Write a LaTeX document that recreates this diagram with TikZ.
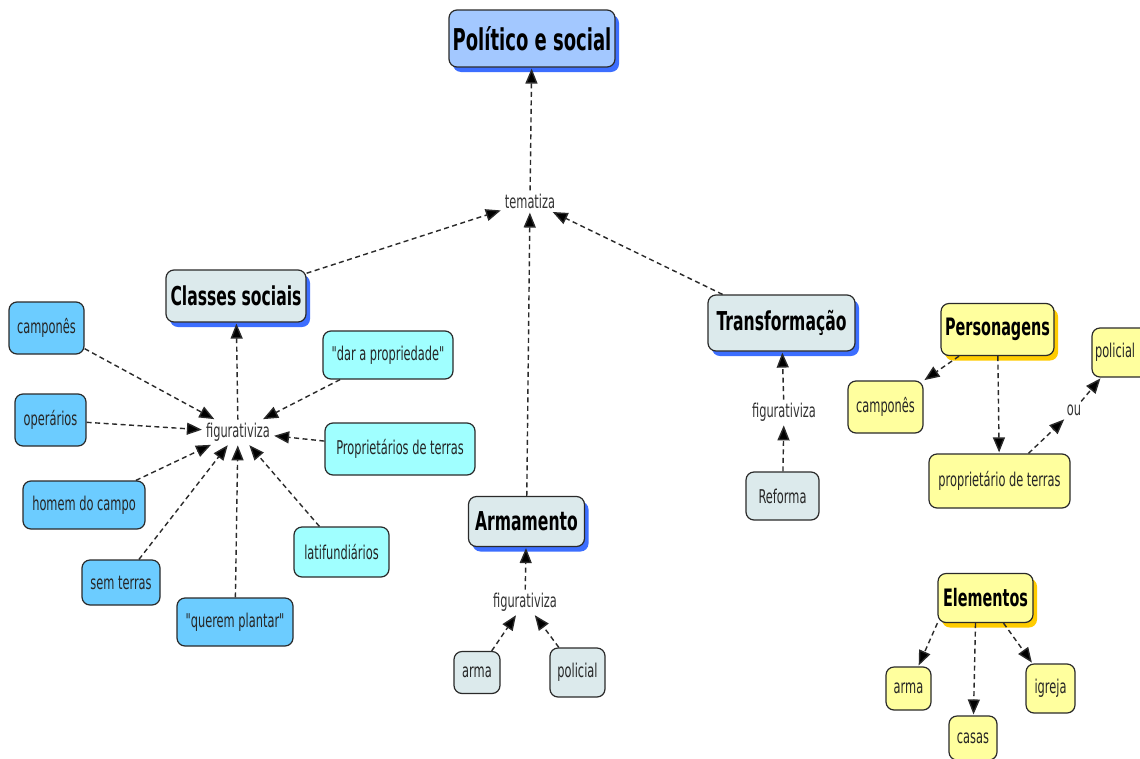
\documentclass[tikz,border=0pt]{standalone}
\usepackage{fontspec}
\setmainfont{DejaVu Sans}[FakeStretch=0.6, Ligatures=TeXOff]
\usetikzlibrary{arrows.meta,shadows}

\definecolor{edgegray}{HTML}{2A2A2A}
\definecolor{topfill}{HTML}{A3C8FF}
\definecolor{greyfill}{HTML}{DCEAEC}
\definecolor{bluefill}{HTML}{6CCCFF}
\definecolor{cyanfill}{HTML}{A0FFFF}
\definecolor{yellowfill}{HTML}{FFFF9E}
\definecolor{shadowblue}{HTML}{3C6EFF}
\definecolor{shadowgold}{HTML}{FFCC00}

\tikzset{
  box/.style={draw=edgegray, line width=1.2pt, rounded corners=8pt, align=center,
    inner sep=0pt, text=black!85, font=\fontsize{19}{22}\selectfont},
  sz/.style 2 args={minimum width=#1pt, minimum height=#2pt},
  head/.style={box, font=\bfseries\fontsize{#1}{#1}\selectfont, text=black},
  blueshadow/.style={drop shadow={shadow xshift=4pt, shadow yshift=-5pt, fill=shadowblue, opacity=1}},
  goldshadow/.style={drop shadow={shadow xshift=4pt, shadow yshift=-5pt, fill=shadowgold, opacity=1}},
  lbl/.style={inner sep=3pt, text=black!80, font=\fontsize{19}{22}\selectfont},
  conn/.style={draw=edgegray, line width=1.4pt, dash pattern=on 5pt off 3.5pt,
    -{Triangle[length=15pt,width=12pt,fill=black]}, shorten >=1pt},
}

\begin{document}
\begin{tikzpicture}[x=1pt,y=-1pt]
\useasboundingbox[fill=white] (0,0) rectangle (1140,758);

% main concept and linking phrase
\node[head=30, blueshadow, fill=topfill, sz={166}{57}] (pol) at (532,38.5) {Político e social};
\node[lbl] (tem) at (530,201) {tematiza};

% second level concepts
\node[head=26, blueshadow, fill=greyfill, sz={140}{52}] (cls) at (236,296) {Classes sociais};
\node[head=26, blueshadow, fill=greyfill, sz={147}{56}] (trf) at (781.5,323) {Transformação};
\node[head=26, blueshadow, fill=greyfill, sz={116}{50}] (arm) at (526.5,521.5) {Armamento};

% social classes branch
\node[lbl] (figL) at (238,432) {figurativiza};
\node[box, fill=bluefill, sz={75}{52}] (camp) at (46.5,328) {camponês};
\node[box, fill=bluefill, sz={71}{52}] (oper) at (50.5,420) {operários};
\node[box, fill=bluefill, sz={122}{48}] (hom) at (84,505) {homem do campo};
\node[box, fill=bluefill, sz={78}{45}] (sem) at (121,582.5) {sem terras};
\node[box, fill=bluefill, sz={116}{48}] (quer) at (235,622) {"querem plantar"};
\node[box, fill=cyanfill, sz={95}{50}] (lat) at (341.5,552) {latifundiários};
\node[box, fill=cyanfill, sz={150}{52}] (prop) at (400,449) {Proprietários de terras};
\node[box, fill=cyanfill, sz={130}{48}] (dar) at (388,355) {"dar a propriedade"};

% armament branch
\node[lbl] (figA) at (525,602) {figurativiza};
\node[box, fill=greyfill, sz={46}{42}] (arma) at (477,672.5) {arma};
\node[box, fill=greyfill, sz={55}{49}] (pol2) at (577.5,672.5) {policial};

% transformation branch
\node[lbl] (figT) at (784,412) {figurativiza};
\node[box, fill=greyfill, sz={73}{48}] (ref) at (782.5,496) {Reforma};

% characters
\node[head=24, goldshadow, fill=yellowfill, sz={113}{52}] (per) at (997.5,329.5) {Personagens};
\node[box, fill=yellowfill, sz={75}{52}] (ycamp) at (885.5,407) {camponês};
\node[box, fill=yellowfill, sz={141}{54}] (yprop) at (999.5,481) {proprietário de terras};
\node[lbl] (ou) at (1074,410) {ou};
\node[box, fill=yellowfill, sz={60}{49}, text width=54pt, align=left] (ypol) at (1122,352.5) {policial};

% elements
\node[head=24, goldshadow, fill=yellowfill, sz={95}{49}] (ele) at (985.5,598) {Elementos};
\node[box, fill=yellowfill, sz={45}{43}] (yarma) at (908.5,688.5) {arma};
\node[box, fill=yellowfill, sz={48}{44}] (casas) at (973,738) {casas};
\node[box, fill=yellowfill, sz={49}{49}] (igr) at (1050.5,688.5) {igreja};

% connectors
\draw[conn] (tem) -- (pol);
\draw[conn] (cls) -- (tem);
\draw[conn] (arm) -- (tem);
\draw[conn] (trf) -- (tem);

\draw[conn] (figL) -- (cls);
\draw[conn] (camp) -- (figL);
\draw[conn] (oper) -- (figL);
\draw[conn] (hom) -- (figL);
\draw[conn] (sem) -- (figL);
\draw[conn] (quer) -- (figL);
\draw[conn] (lat) -- (figL);
\draw[conn] (prop) -- (figL);
\draw[conn] (dar) -- (figL);

\draw[conn] (figA) -- (arm);
\draw[conn] (arma) -- (figA);
\draw[conn] (pol2) -- (figA);

\draw[conn] (figT) -- (trf);
\draw[conn] (ref) -- (figT);

\draw[conn] (per) -- (ycamp);
\draw[conn] (per) -- (yprop);
\draw[conn] (yprop) -- (ou);
\draw[conn] (ou) -- (ypol);

\draw[conn] (ele.south west) -- (yarma);
\draw[conn] ([xshift=-10pt]ele.south) -- (casas);
\draw[conn] (ele) -- (igr);
\end{tikzpicture}
\end{document}
